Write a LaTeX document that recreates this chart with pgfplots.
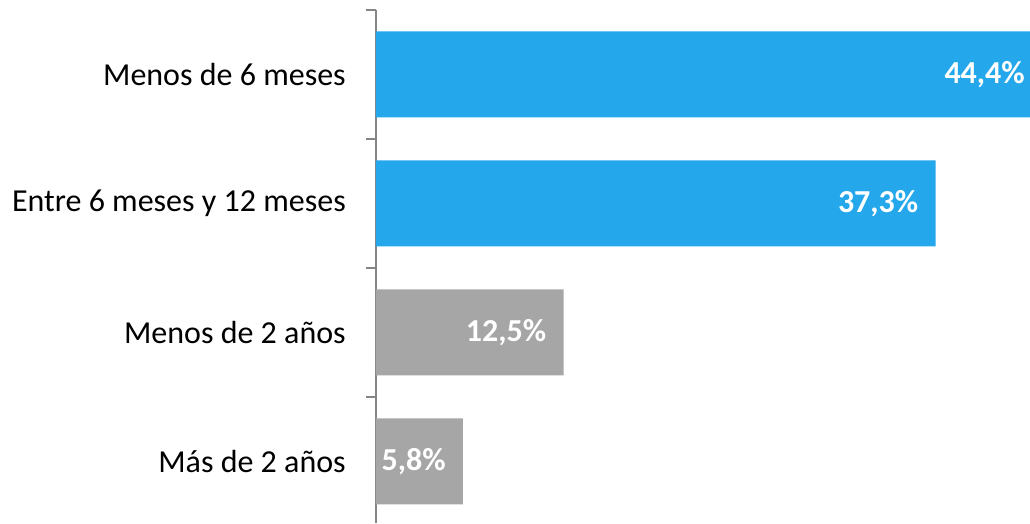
\documentclass[border=0pt]{standalone}
\usepackage{pgfplots}
\pgfplotsset{compat=1.18}
\usepackage{fontspec}
\setmainfont{Carlito}
\definecolor{barblue}{HTML}{25A8EB}
\definecolor{bargray}{HTML}{A6A6A6}
\definecolor{axgray}{HTML}{868686}
\begin{document}
\begin{tikzpicture}
\begin{axis}[
  scale only axis,
  clip=false,
  width=490.5pt, height=385.1pt,
  xbar, bar width=64.5pt, bar shift=0pt,
  xmin=0, xmax=43.6,
  ymin=0.519, ymax=4.5,
  hide x axis,
  axis y line*=left,
  axis line style={axgray, line width=1.2pt},
  ytick={1,2,3,4},
  yticklabels={Más de 2 años, Menos de 2 años, Entre 6 meses y 12 meses, Menos de 6 meses},
  major tick length=0pt,
  yticklabel style={font=\fontsize{24}{28}\selectfont, anchor=east, inner sep=0pt, xshift=-22.5pt},
  extra y ticks={1.5,2.5,3.5,4.5},
  extra y tick labels={},
  extra y tick style={major tick length=7.5pt, tick align=outside, tick style={axgray, line width=1.2pt}},
  point meta=x,
  /pgf/number format/assume math mode=true,
  nodes near coords={\pgfmathprintnumber[fixed,precision=1,fixed zerofill,use comma,assume math mode=true]{\pgfplotspointmeta}\%},
  nodes near coords style={font=\fontsize{24}{28}\selectfont\bfseries, text=white, anchor=east, inner sep=0pt, xshift=-12.75pt},
  every axis plot/.append style={draw=none},
]
\addplot[fill=barblue] coordinates {(44.4,4) (37.3,3)};
\addplot[fill=bargray] coordinates {(12.5,2) (5.8,1)};
\end{axis}
\pgfresetboundingbox
\path ([xshift=-282pt]current axis.south west) rectangle ([yshift=7.5pt]current axis.north east);
\end{tikzpicture}
\end{document}
